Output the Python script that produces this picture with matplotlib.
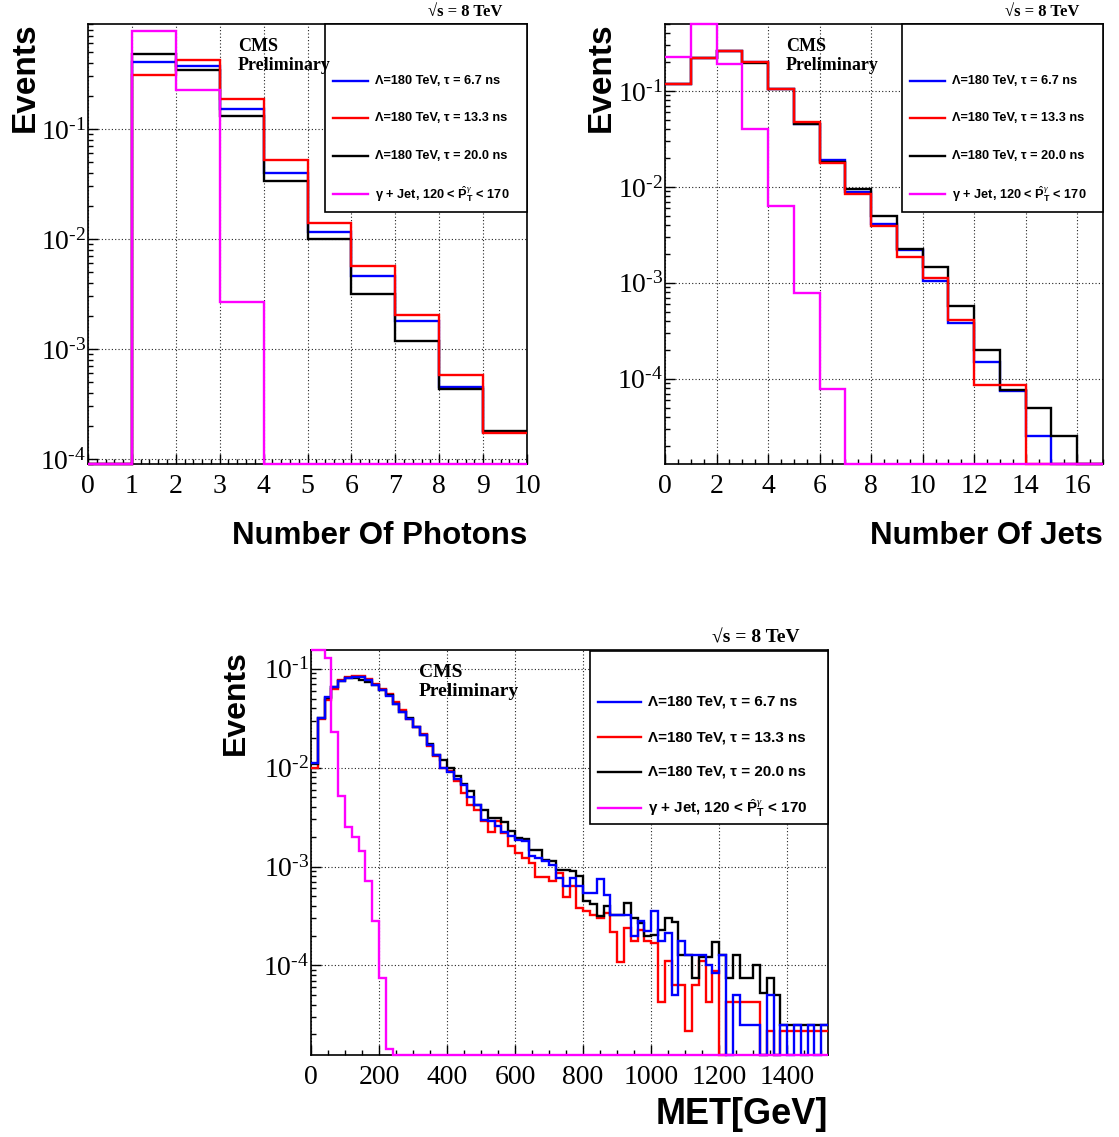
import numpy as np
import matplotlib
matplotlib.use('Agg')
import matplotlib.pyplot as plt
from matplotlib.ticker import MultipleLocator, LogLocator, FuncFormatter, NullFormatter
from matplotlib.patches import Rectangle
from matplotlib.lines import Line2D

plt.rcParams['font.family'] = ['Liberation Serif', 'DejaVu Serif']
plt.rcParams['mathtext.fontset'] = 'custom'
plt.rcParams['mathtext.rm'] = 'Liberation Serif'
plt.rcParams['mathtext.it'] = 'Liberation Serif:italic'
plt.rcParams['mathtext.bf'] = 'Liberation Sans:bold'

# ---------------- data ----------------
legend_labels = ['Λ=180 TeV, τ = 6.7 ns', 'Λ=180 TeV, τ = 13.3 ns', 'Λ=180 TeV, τ = 20.0 ns',
                 r'γ + Jet, 120 < $\hat{\mathbf{P}}_{\mathbf{T}}^{\gamma}$ < 170']
series_colors = ['#0000ff', '#ff0000', '#000000', '#ff00ff']

photon_edges = [0, 1, 2, 3, 4, 5, 6, 7, 8, 9, 10]
photon_blue = [0, 0.41, 0.376, 0.151, 0.0398, 0.0115, 0.00461, 0.00179, 0.000449, 0.000175]
photon_red = [0, 0.31, 0.42, 0.189, 0.0519, 0.01406, 0.00572, 0.00202, 0.00058, 0.000173]
photon_black = [0, 0.478, 0.344, 0.130, 0.0335, 0.0100, 0.00318, 0.00118, 0.000433, 0.000178]
photon_magenta = [0, 0.77, 0.225, 0.00269, 0, 0, 0, 0, 0, 0]

jet_edges = [0, 1, 2, 3, 4, 5, 6, 7, 8, 9, 10, 11, 12, 13, 14, 15, 16, 17]
jet_blue = [0.117, 0.22, 0.26, 0.199, 0.104, 0.045, 0.019, 0.0089, 0.00414, 0.0022,
            0.00105, 0.00038, 0.000151, 7.5e-5, 2.55e-5, 0, 0]
jet_red = [0.117, 0.22, 0.261, 0.199, 0.104, 0.0471, 0.0176, 0.0085, 0.00394, 0.00187,
           0.00113, 0.00041, 8.6e-5, 8.6e-5, 0, 0, 0]
jet_black = [0.117, 0.22, 0.26, 0.196, 0.104, 0.045, 0.0182, 0.0095, 0.0050, 0.00224,
             0.00145, 0.00058, 0.0002, 7.6e-5, 5.0e-5, 2.55e-5, 0]
jet_magenta = [0.224, 0.52, 0.19, 0.0402, 0.00628, 0.00078, 7.8e-5, 0, 0, 0,
               0, 0, 0, 0, 0, 0, 0]

met_bin_width = 20
met_nbins = 76
met_blue = [0.0111, 0.0321, 0.0513, 0.0662, 0.0756, 0.0806, 0.0824, 0.0818, 0.0762, 0.0689,
            0.0612, 0.0525, 0.0440, 0.0370, 0.0312, 0.0255, 0.0215, 0.0170, 0.0133, 0.0100,
            0.0090, 0.0076, 0.0067, 0.0051, 0.00423, 0.00299, 0.00287, 0.00255, 0.00222, 0.00202,
            0.00187, 0.00180, 0.00127, 0.00122, 0.00113, 0.00104, 0.000766, 0.00063, 0.000766, 0.00063,
            0.00054, 0.00054, 0.000748, 0.00052, 0.000326, 0.000326, 0.000326, 0.0002, 0.000279, 0.000221,
            0.000352, 0.000175, 0.000212, 5.0e-5, 0.000175, 0.000128, 0.000128, 0.000128, 0.000101, 8.4e-5,
            0.000128, 0, 5.0e-5, 2.5e-5, 2.5e-5, 2.5e-5, 0, 5.0e-5, 0, 2.5e-5,
            0, 2.5e-5, 0, 2.5e-5, 0, 2.5e-5]
met_red = [0.0100, 0.031, 0.0486, 0.063, 0.077, 0.082, 0.085, 0.084, 0.078, 0.071,
           0.063, 0.055, 0.046, 0.038, 0.031, 0.026, 0.0218, 0.0165, 0.013, 0.0099,
           0.0093, 0.0074, 0.00556, 0.00423, 0.00377, 0.00287, 0.00222, 0.00287, 0.00219, 0.0016,
           0.00137, 0.00122, 0.00109, 0.00078, 0.00078, 0.00071, 0.00086, 0.00049, 0.00063, 0.00038,
           0.000352, 0.000326, 0.000301, 0.000339, 0.000216, 0.000107, 0.000239, 0.000175, 0.00023, 0.000175,
           0.000168, 4.3e-5, 0.00011, 6.4e-5, 6.4e-5, 2.15e-5, 6.4e-5, 0.00011, 4.3e-5, 8.7e-5,
           0, 4.3e-5, 4.3e-5, 4.3e-5, 4.3e-5, 4.3e-5, 0, 2.15e-5, 0, 2.15e-5,
           2.15e-5, 2.15e-5, 2.15e-5, 2.15e-5, 2.15e-5, 2.15e-5]
met_black = [0.0110, 0.032, 0.051, 0.066, 0.076, 0.080, 0.081, 0.077, 0.074, 0.069,
             0.061, 0.054, 0.044, 0.037, 0.032, 0.0255, 0.0215, 0.0172, 0.0135, 0.0119,
             0.0099, 0.0083, 0.0068, 0.00577, 0.00423, 0.00377, 0.0031, 0.0031, 0.0028, 0.00227,
             0.00195, 0.0019, 0.00148, 0.00148, 0.00117, 0.00113, 0.00093, 0.00093, 0.00090, 0.00081,
             0.000445, 0.00042, 0.000313, 0.000395, 0.000326, 0.000326, 0.000428, 0.000301, 0.000268, 0.000196,
             0.000204, 0.00023, 0.000299, 0.000277, 0.000127, 0.000127, 7.5e-5, 0.000122, 0.000122, 0.000174,
             0.000127, 7.5e-5, 0.000127, 7.5e-5, 7.5e-5, 0.000101, 5.2e-5, 7.5e-5, 5.0e-5, 2.5e-5,
             2.5e-5, 2.5e-5, 2.5e-5, 2.5e-5, 2.5e-5, 2.5e-5]
met_magenta = [0.16, 0.16, 0.128, 0.0232, 0.00519, 0.0025, 0.00198, 0.00142, 0.000714, 0.000283,
               7.5e-5, 1.44e-5, 0, 0, 0, 0, 0, 0, 0, 0,
               0, 0, 0, 0, 0, 0, 0, 0, 0, 0,
               0, 0, 0, 0, 0, 0, 0, 0, 0, 0,
               0, 0, 0, 0, 0, 0, 0, 0, 0, 0,
               0, 0, 0, 0, 0, 0, 0, 0, 0, 0,
               0, 0, 0, 0, 0, 0, 0, 0, 0, 0,
               0, 0, 0, 0, 0, 0]
met_edges = np.arange(met_nbins + 1) * met_bin_width

# ---------------- layout ----------------
W, H = 1119, 1137
fig = plt.figure(figsize=(W / 100, H / 100), dpi=100)


def rect(x0, y0, x1, y1):
    return [x0 / W, 1 - y1 / H, (x1 - x0) / W, (y1 - y0) / H]


def fx(x):
    return x / W


def fy(y):
    return 1 - y / H


def log_fmt(v, pos):
    e = int(round(np.log10(v)))
    sign = '\u2010' if e < 0 else ''
    return r'$10^{%s%d}$' % (sign, abs(e))


def panel(box, edges, series, order, xlim, ylim, xmajor, xminor, tick_fs):
    ax = fig.add_axes(rect(*box))
    ax.set_yscale('log')
    ax.set_xlim(*xlim)
    ax.set_ylim(*ylim)
    for z, idx in enumerate(order):
        v = np.asarray(series[idx], dtype=float)
        v = np.where(v > 0, v, ylim[0])
        v = np.clip(v, ylim[0], ylim[1])
        ax.stairs(v, edges, baseline=None, color=series_colors[idx], lw=1.7,
                  clip_on=False, zorder=3 + z)
    ax.xaxis.set_major_locator(MultipleLocator(xmajor))
    ax.xaxis.set_minor_locator(MultipleLocator(xminor))
    ax.yaxis.set_major_locator(LogLocator(base=10))
    ax.yaxis.set_minor_locator(LogLocator(base=10, subs=np.arange(2, 10)))
    ax.yaxis.set_major_formatter(FuncFormatter(log_fmt))
    ax.yaxis.set_minor_formatter(NullFormatter())
    ax.tick_params(which='both', direction='in', top=False, right=False, width=1.0)
    ax.tick_params(which='major', length=7.5, labelsize=tick_fs)
    ax.tick_params(which='minor', length=3.8)
    ax.tick_params(axis='x', which='major', pad=7)
    ax.tick_params(axis='y', which='major', pad=1.5)
    ax.set_axisbelow(True)
    ax.grid(True, which='major', linestyle=(0, (1, 2)), color='#222222', lw=0.8)
    for s in ax.spines.values():
        s.set_linewidth(1.2)
    return ax


def legend_box(box, entry_y, line_x, text_x, fs):
    x0, y0, x1, y1 = box
    fig.add_artist(Rectangle((fx(x0), fy(y1)), (x1 - x0) / W, (y1 - y0) / H,
                             transform=fig.transFigure, facecolor='white',
                             edgecolor='black', lw=1.2, zorder=20))
    for i, yy in enumerate(entry_y):
        fig.add_artist(Line2D([fx(line_x[0]), fx(line_x[1])], [fy(yy), fy(yy)],
                              transform=fig.transFigure, color=series_colors[i],
                              lw=1.7, zorder=21))
        fig.text(fx(text_x), fy(yy), legend_labels[i], ha='left', va='center',
                 fontsize=fs, fontweight='bold', family=['Liberation Sans', 'DejaVu Sans'],
                 zorder=22)


# Top-left: photons
ax1 = panel((88, 24, 527, 464), photon_edges,
            [photon_blue, photon_red, photon_black, photon_magenta], [0, 2, 1, 3],
            (0, 10), (9.0e-5, 0.90), 1, 0.2, 20)
# Top-right: jets
ax2 = panel((665, 24, 1103, 464), jet_edges,
            [jet_blue, jet_red, jet_black, jet_magenta], [0, 2, 1, 3],
            (0, 17), (1.29e-5, 0.50), 2, 0.5, 20)
# Bottom: MET
ax3 = panel((311, 650, 828, 1055), met_edges,
            [met_blue, met_red, met_black, met_magenta], [1, 2, 0, 3],
            (0, 1520), (1.24e-5, 0.155), 200, 50, 20)

# Legends
legend_box((325, 24, 527, 212), [81, 118, 156, 194], (333, 368), 375, 9.2)
legend_box((902, 24, 1103, 212), [81, 118, 156, 194], (910, 945), 952, 9.2)
legend_box((590, 651, 828, 824), [702, 737, 772, 808], (598, 641), 648, 10.9)

# Axis titles
sans_b = dict(fontweight='bold', family=['Liberation Sans', 'DejaVu Sans'])
fig.text(fx(527), fy(536), 'Number Of Photons', ha='right', va='center', fontsize=22.5, **sans_b)
fig.text(fx(1103), fy(536), 'Number Of Jets', ha='right', va='center', fontsize=22.5, **sans_b)
fig.text(fx(828), fy(1114), 'MET[GeV]', ha='right', va='center', fontsize=26, **sans_b)
fig.text(fx(25), fy(22), 'Events', rotation=90, ha='center', va='top', fontsize=24, **sans_b)
fig.text(fx(601), fy(22), 'Events', rotation=90, ha='center', va='top', fontsize=24, **sans_b)
fig.text(fx(236), fy(650), 'Events', rotation=90, ha='center', va='top', fontsize=23, **sans_b)

# CMS Preliminary and sqrt(s)
serif_b = dict(fontweight='bold', family=['Liberation Serif', 'DejaVu Serif'])
for (xc, ytop, fs) in [(238, 38, 13), (786, 38, 13), (419, 664, 14)]:
    fig.text(fx(xc), fy(ytop), 'CMS\nPreliminary', ha='left', va='top', fontsize=fs,
             linespacing=1.12, zorder=25, **serif_b)
for (xr, yc, fs) in [(502, 12, 12), (1079, 12, 12), (800, 638, 14)]:
    fig.text(fx(xr), fy(yc), '√s = 8 TeV', ha='right', va='center', fontsize=fs, **serif_b)

fig.savefig('out.png', dpi=100)
